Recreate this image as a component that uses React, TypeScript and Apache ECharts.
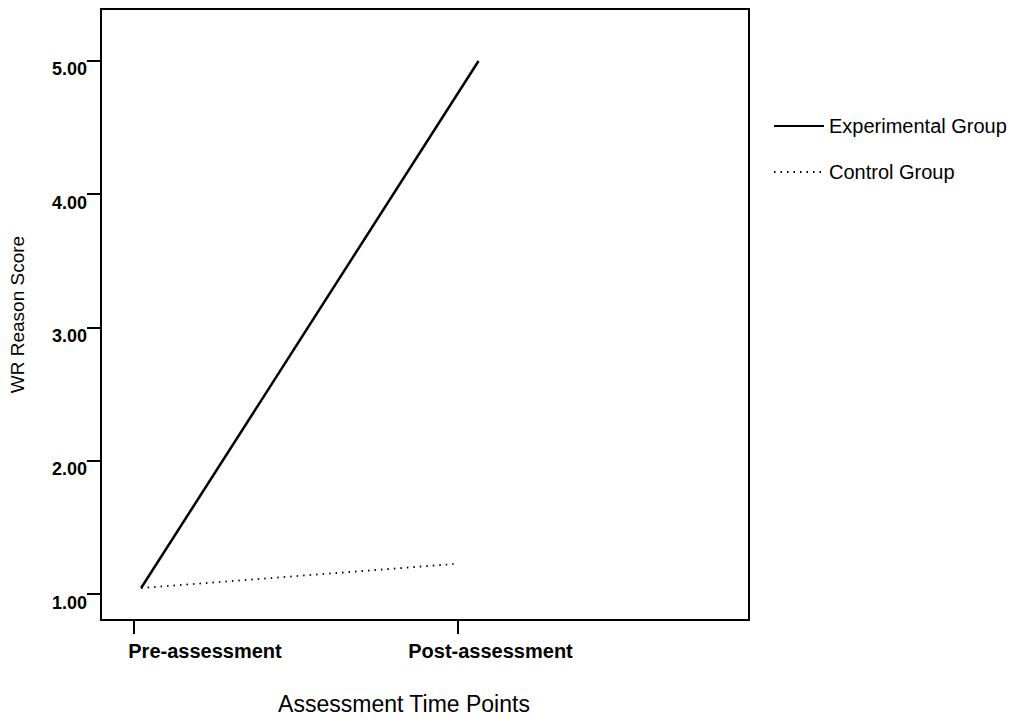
import React, { useEffect, useRef } from "react";
import * as echarts from "echarts";

const timePoints = ["Pre-assessment", "Post-assessment"];
const seriesNames = ["Experimental Group", "Control Group"];
const experimentalX = [0.022, 1.065];
const experimentalY = [1.045, 5.0];
const controlX = [0.022, 0.988];
const controlY = [1.045, 1.225];
const yTicks = [1, 2, 3, 4, 5];
const xTicks = [0, 1];

const FONT = "'Liberation Sans', Arial, Helvetica, sans-serif";

export default function App() {
  const ref = useRef<HTMLDivElement>(null);
  useEffect(() => {
    if (!ref.current) return;
    const chart = echarts.init(ref.current, undefined, { renderer: "svg" });
    const toPairs = (xs: number[], ys: number[]) => xs.map((x, i) => [x, ys[i]]);
    chart.setOption({
      animation: false,
      backgroundColor: "#ffffff",
      textStyle: { fontFamily: FONT, color: "#000" },
      grid: {
        left: 100,
        right: 266,
        top: 9,
        bottom: 100,
        show: true,
        borderColor: "#000",
        borderWidth: 2,
        backgroundColor: "transparent",
      },
      legend: {
        orient: "vertical",
        left: 773,
        top: 115,
        padding: 0,
        itemWidth: 50,
        itemHeight: 14,
        itemGap: 24,
        itemStyle: { opacity: 0 },
        data: seriesNames,
        textStyle: { fontFamily: FONT, fontSize: 20, color: "#000", lineHeight: 22 },
      },
      xAxis: {
        type: "value",
        min: -0.102,
        max: 1.901,
        name: "Assessment Time Points",
        nameLocation: "middle",
        nameGap: 72,
        nameTextStyle: { fontFamily: FONT, fontSize: 23, color: "#000", padding: [0, 42, 0, 0] },
        axisLine: { show: true, onZero: false, lineStyle: { color: "#000", width: 2 } },
        axisTick: { show: true, length: 14, lineStyle: { color: "#000", width: 2 }, customValues: xTicks },
        splitLine: { show: false },
        axisLabel: {
          customValues: xTicks,
          margin: 21,
          formatter: (v: number) => {
            const i = Math.round(v);
            return i === 0 ? `{a|${timePoints[0]}}` : `{b|${timePoints[1]}}`;
          },
          rich: {
            a: { fontFamily: FONT, fontSize: 20, fontWeight: "bold", color: "#000", padding: [0, 0, 0, 142] },
            b: { fontFamily: FONT, fontSize: 20, fontWeight: "bold", color: "#000", padding: [0, 0, 0, 66] },
          },
        },
      },
      yAxis: {
        type: "value",
        min: 0.805,
        max: 5.39,
        name: "WR Reason Score",
        nameLocation: "middle",
        nameGap: 74,
        nameTextStyle: { fontFamily: FONT, fontSize: 19, color: "#000" },
        axisLine: { show: true, onZero: false, lineStyle: { color: "#000", width: 2 } },
        axisTick: { show: true, length: 14, lineStyle: { color: "#000", width: 2 }, customValues: yTicks },
        splitLine: { show: false },
        axisLabel: {
          customValues: yTicks,
          margin: 14,
          fontFamily: FONT,
          fontSize: 18,
          fontWeight: "bold",
          color: "#000",
          verticalAlign: "top",
          lineHeight: 17,
          formatter: (v: number) => v.toFixed(2),
        },
      },
      series: [
        {
          name: seriesNames[0],
          type: "line",
          data: toPairs(experimentalX, experimentalY),
          symbol: "none",
          lineStyle: { color: "#000", width: 2.5, type: "solid" },
          itemStyle: { color: "#000" },
        },
        {
          name: seriesNames[1],
          type: "line",
          data: toPairs(controlX, controlY),
          symbol: "none",
          lineStyle: { color: "#000", width: 1.8, type: [1.5, 5] },
          itemStyle: { color: "#000" },
        },
      ],
    });
    return () => chart.dispose();
  }, []);
  return (
    <div
      ref={ref}
      style={{ position: "fixed", left: 0, top: 0, width: 1015, height: 720, background: "#fff" }}
    />
  );
}
